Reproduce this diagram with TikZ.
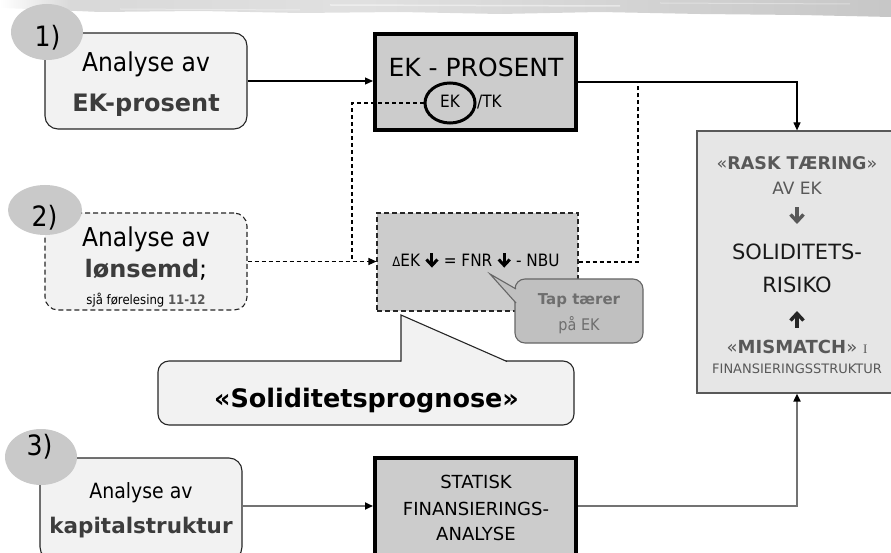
\documentclass[tikz,border=0pt]{standalone}
\usepackage{fontspec}
\setmainfont{DejaVu Sans}
\newfontfamily\cond{DejaVu Sans}[FakeStretch=0.9]
\newfontfamily\serifI{Liberation Serif}
\usetikzlibrary{arrows.meta,shapes.geometric}

\definecolor{softfill}{HTML}{F2F2F2}
\definecolor{taggray}{HTML}{C9C9C9}
\definecolor{boxgray}{HTML}{CCCCCC}
\definecolor{rbfill}{HTML}{E6E6E6}
\definecolor{tapfill}{HTML}{C0C0C0}
\definecolor{darktext}{HTML}{3C3C3C}
\definecolor{greytext}{HTML}{585858}
\definecolor{taptext}{HTML}{6E6E6E}

\newcommand\fs[1]{\fontsize{#1}{#1}\selectfont}
% heavy down arrow set inline with text
\newcommand\arrdn{\tikz[baseline=0pt,x=1pt,y=1pt,line width=3pt]{%
  \draw (0,13.5) -- (0,2);
  \draw[line join=miter] (-5.5,7.5) -- (0,1.6) -- (5.5,7.5);}}

\pgfdeclarehorizontalshading{topband}{100bp}{color(0bp)=(white); color(25bp)=(white);
  color(29bp)=(gray!30); color(45bp)=(gray!24); color(60bp)=(gray!34);
  color(75bp)=(gray!44); color(100bp)=(gray!44)}

\begin{document}
\begin{tikzpicture}[x=1pt,y=-1pt,
  box/.style={rectangle, inner sep=0pt},
  softbox/.style={box, draw=black!85, line width=1.1pt, fill=softfill, rounded corners=13pt},
  heavybox/.style={box, draw=black, line width=4pt, fill=boxgray},
  tag/.style={ellipse, inner sep=0pt, fill=taggray},
  txt/.style={inner sep=0pt, anchor=base},
  tip/.style={-{Triangle[length=8pt,width=7pt,color=black]}},
  conn/.style={line width=1.1pt, tip},
  dconn/.style={line width=1.1pt, dash pattern=on 4pt off 3pt},
  gconn/.style={line width=1.8pt, draw=black!55, tip},
  heavyarrow/.style={line width=3.4pt, line join=miter}]
\useasboundingbox (0,0) rectangle (891,553);
\clip (0,0) rectangle (891,553);

% brushed band along the top edge
\shade[shading=topband] (0,0) -- (891,0) -- (891,17) -- (800,15) -- (700,14) -- (600,12)
  -- (500,14) -- (400,12) -- (300,13) -- (200,11) -- (100,12) -- (30,9) -- (0,8) -- cycle;
\draw[white, opacity=.45, line width=1.5pt] (330,5) -- (620,6);
\draw[white, opacity=.35, line width=1pt] (120,9) -- (300,10);
\draw[white, opacity=.35, line width=1pt] (660,3) -- (850,4);

% ---- row 1: equity ratio
\node[softbox, minimum width=202pt, minimum height=96pt] (b1) at (146,81) {};
\node[txt] (b1a) at (146,72) {\cond\fs{26}Analyse av};
\node[txt] (b1b) at (146,112) {\fs{24}\bfseries\color{darktext}EK-prosent};
\node[tag, minimum width=72pt, minimum height=56pt] (tag1) at (47,32) {};
\node[txt] (tag1t) at (47.5,47) {\cond\fs{28}1)};

\node[heavybox, minimum width=201pt, minimum height=96pt] (ekbox) at (475.5,82) {};
\node[txt] (ekt) at (476,77) {\fs{25}EK - PROSENT};
\node[txt] (ekek) at (450,108) {\cond\fs{17}EK};
\node[txt, anchor=base west] (ektk) at (477,108) {\cond\fs{17}/TK};
\node[ellipse, draw, line width=3pt, minimum width=50pt, minimum height=40pt, inner sep=0pt] (ekring) at (450,103) {};

% ---- row 2: profitability
\node[softbox, dash pattern=on 5pt off 3pt, minimum width=202pt, minimum height=97pt] (b2) at (146,261.5) {};
\node[txt] (b2a) at (146,247) {\cond\fs{26}Analyse av};
\node[txt] (b2b) at (146,277) {\fs{24}{\bfseries\color{darktext}lønsemd};};
\node[txt] (b2c) at (146,305) {\cond\fs{13}sjå førelesing {\bfseries\color{greytext}11-12}};
\node[tag, minimum width=74pt, minimum height=50pt] (tag2) at (45,210) {};
\node[txt] (tag2t) at (44.5,227) {\cond\fs{28}2)};

\node[box, draw=black!85, line width=1.1pt, dash pattern=on 5pt off 3pt, fill=boxgray,
  minimum width=201pt, minimum height=98pt] (dbox) at (477.5,262) {};
\node[txt] (dform) at (476,267) {\cond\fs{17}{\fs{13}Δ}EK \arrdn{} = FNR \arrdn{} - NBU};

% callout: losses erode equity
\node[box, draw=black!60, line width=1.1pt, fill=tapfill, rounded corners=10pt,
  minimum width=128pt, minimum height=64pt] (tap) at (579,311) {};
\coordinate (taptip) at (490,274);
\fill[tapfill] (taptip) -- (516.5,289) -- (516.5,303) -- cycle;
\draw[black!60, line width=1.1pt] (516,289) -- (taptip) -- (516,303);
\node[txt] (tapa) at (579,305) {\fs{15}\bfseries\color{taptext}Tap tærer};
\node[txt] (tapb) at (579,330) {\cond\fs{16}\color{taptext}på EK};

% callout: solvency forecast
\node[box, draw=black!85, line width=1.1pt, fill=softfill, rounded corners=11pt,
  minimum width=416pt, minimum height=64pt] (prog) at (366,393) {};
\coordinate (progtip) at (401,315);
\fill[softfill] (progtip) -- (401,362) -- (507,362) -- cycle;
\draw[black!85, line width=1.1pt] (401,361.5) -- (progtip) -- (507,361.5);
\node[txt] (progt) at (366.5,407) {\fs{25.5}\bfseries «Soliditetsprognose»};

% ---- row 3: capital structure
\node[softbox, minimum width=202pt, minimum height=102pt] (b3) at (141,509) {};
\node[txt] (b3a) at (141,498) {\cond\fs{21}Analyse av};
\node[txt] (b3b) at (141,533) {\fs{21.5}\bfseries\color{darktext}kapitalstruktur};
\node[tag, minimum width=72pt, minimum height=56pt] (tag3) at (41,457) {};
\node[txt] (tag3t) at (39.5,455) {\cond\fs{28}3)};

\node[heavybox, minimum width=201pt, minimum height=104pt] (sbox) at (475.5,510) {};
\node[txt] (sa) at (476,488) {\fs{18}STATISK};
\node[txt] (sb) at (476,515) {\fs{18}FINANSIERINGS-};
\node[txt] (sc) at (476,540) {\fs{18}ANALYSE};
\coordinate (slev) at (475.5,506);

% ---- solvency risk
\node[box, draw=black!65, line width=1.2pt, fill=rbfill, minimum width=200pt, minimum height=262pt] (rb) at (797,262) {};
\node[txt] (rb1) at (797,170) {\fs{17.5}\color{greytext}«\textbf{RASK TÆRING}»};
\node[txt] (rb2) at (797,195) {\fs{17}\color{greytext}AV EK};
\draw[heavyarrow, greytext] (797,207.5) -- (797,221);
\draw[heavyarrow, greytext] (790.5,214.5) -- (797,221.5) -- (803.5,214.5);
\node[txt] (rb3) at (797,260) {\fs{21}\color{black!90}SOLIDITETS-};
\node[txt] (rb4) at (797,292) {\fs{21}\color{black!90}RISIKO};
\draw[heavyarrow, black!85] (797,327.5) -- (797,314);
\draw[heavyarrow, black!85] (790.5,320.5) -- (797,313.5) -- (803.5,320.5);
\node[txt] (rb5) at (797,353) {\fs{18}\color{greytext}«\textbf{MISMATCH}» {\serifI\fs{13}I}};
\node[txt] (rb6) at (797,373) {\fs{13}\color{greytext}FINANSIERINGSSTRUKTUR};

% ---- connectors
\draw[conn] (b1.east) -- (b1.east -| ekbox.west);
\draw[conn] (ekbox.east) -| (rb.north);
\coordinate (jl) at (352,262);
\draw[dconn] (ekring.west) -| (jl);
\draw[dconn, tip] (b2.east) -- (b2.east -| dbox.west);
\coordinate (jr) at (638,82);
\draw[dconn] (dbox.east) -| (jr);
\draw[gconn] (slev -| b3.east) -- (slev -| sbox.west);
\draw[gconn] (slev -| sbox.east) -| (rb.south);
\end{tikzpicture}
\end{document}
